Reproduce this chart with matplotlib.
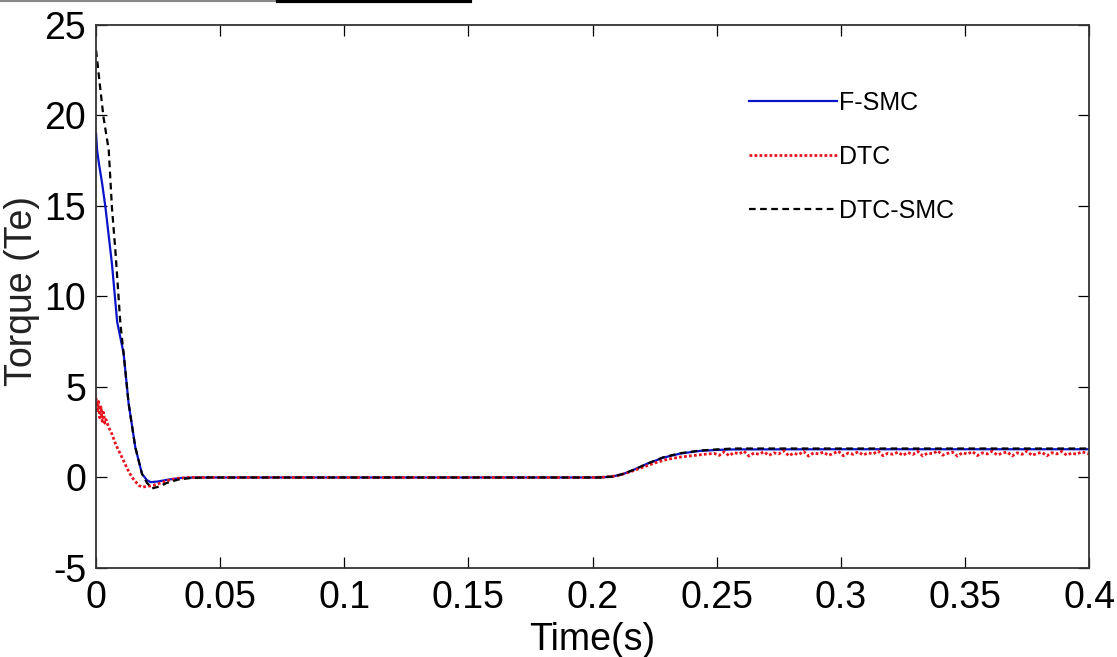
import matplotlib
matplotlib.use("Agg")
import matplotlib.pyplot as plt
from matplotlib.lines import Line2D

plt.rcParams["axes.unicode_minus"] = False

# F-SMC (blue)
t_fsmc = [0, 0.0004, 0.0012, 0.0025, 0.0038, 0.0064, 0.0085, 0.0111, 0.0131, 0.0158,
          0.0185, 0.0205, 0.0220, 0.0250, 0.0290, 0.0340, 0.0400, 0.2000, 0.2030, 0.2080,
          0.2125, 0.2170, 0.2220, 0.2286, 0.2353, 0.2434, 0.2500, 0.2567, 0.3000, 0.4000]
fsmc = [19.0, 18.1, 17.3, 16.2, 14.9, 11.8, 8.6, 6.85, 4.1, 1.67,
        0.2, -0.15, -0.26, -0.22, -0.12, -0.03, 0.0, 0.0, 0.0, 0.05,
        0.2, 0.45, 0.76, 1.1, 1.32, 1.47, 1.52, 1.55, 1.56, 1.56]

# DTC-SMC (black dashed)
t_dtcsmc = [0, 0.0005, 0.0016, 0.0030, 0.0051, 0.0064, 0.0078, 0.0098, 0.0111, 0.0131,
            0.0158, 0.0185, 0.0205, 0.0226, 0.0255, 0.0285, 0.0330, 0.0380, 0.0450, 0.2000,
            0.2030, 0.2080, 0.2125, 0.2170, 0.2220, 0.2286, 0.2353, 0.2434, 0.2500, 0.2567,
            0.3000, 0.4000]
dtcsmc = [23.6, 23.0, 21.6, 19.9, 18.1, 14.9, 12.5, 8.5, 6.85, 4.1,
          1.67, 0.2, -0.3, -0.6, -0.5, -0.3, -0.12, -0.03, 0.0, 0.0,
          0.0, 0.05, 0.2, 0.45, 0.76, 1.12, 1.34, 1.49, 1.55, 1.6,
          1.6, 1.6]

# DTC (red dotted, noisy)
t_dtc = [0, 0.0005, 0.0010, 0.0015, 0.0020, 0.0025, 0.0030, 0.0035, 0.0040, 0.0050,
         0.0064, 0.0080, 0.0105, 0.0125, 0.0145, 0.0172, 0.0185, 0.0204, 0.0230, 0.0260,
         0.0300, 0.0325, 0.0380, 0.2000, 0.2050, 0.2100, 0.2150, 0.2200, 0.2250, 0.2300,
         0.2350, 0.2400, 0.2450, 0.2490, 0.2510, 0.2530, 0.2550, 0.2570, 0.2590, 0.2610,
         0.2630, 0.2650, 0.2670, 0.2690, 0.2710, 0.2730, 0.2750, 0.2770, 0.2790, 0.2810,
         0.2830, 0.2850, 0.2870, 0.2890, 0.2910, 0.2930, 0.2950, 0.2970, 0.2990, 0.3010,
         0.3030, 0.3050, 0.3070, 0.3090, 0.3110, 0.3130, 0.3150, 0.3170, 0.3190, 0.3210,
         0.3230, 0.3250, 0.3270, 0.3290, 0.3310, 0.3330, 0.3350, 0.3370, 0.3390, 0.3410,
         0.3430, 0.3450, 0.3470, 0.3490, 0.3510, 0.3530, 0.3550, 0.3570, 0.3590, 0.3610,
         0.3630, 0.3650, 0.3670, 0.3690, 0.3710, 0.3730, 0.3750, 0.3770, 0.3790, 0.3810,
         0.3830, 0.3850, 0.3870, 0.3890, 0.3910, 0.3930, 0.3950, 0.3970, 0.4000]
dtc = [4.4, 3.6, 4.2, 3.3, 3.9, 3.1, 3.6, 3.0, 3.2, 2.8,
       2.4, 1.8, 1.1, 0.5, 0.0, -0.44, -0.53, -0.5, -0.44, -0.3,
       -0.12, -0.05, 0.0, 0.0, 0.02, 0.1, 0.3, 0.55, 0.8, 1.0,
       1.12, 1.2, 1.28, 1.33, 1.22, 1.42, 1.2, 1.38, 1.3, 1.45,
       1.18, 1.35, 1.28, 1.42, 1.22, 1.36, 1.3, 1.48, 1.2, 1.34,
       1.26, 1.44, 1.18, 1.36, 1.3, 1.4, 1.22, 1.33, 1.45, 1.2,
       1.35, 1.28, 1.42, 1.24, 1.36, 1.3, 1.46, 1.2, 1.34, 1.28,
       1.4, 1.22, 1.38, 1.27, 1.44, 1.19, 1.35, 1.31, 1.47, 1.23,
       1.33, 1.4, 1.18, 1.37, 1.29, 1.43, 1.21, 1.36, 1.3, 1.45,
       1.24, 1.34, 1.41, 1.19, 1.36, 1.28, 1.46, 1.22, 1.33, 1.39,
       1.2, 1.37, 1.3, 1.44, 1.23, 1.35, 1.28, 1.42, 1.3]

x_ticks = [0, 0.05, 0.1, 0.15, 0.2, 0.25, 0.3, 0.35, 0.4]
x_labels = ["0", "0.05", "0.1", "0.15", "0.2", "0.25", "0.3", "0.35", "0.4"]
y_ticks = [-5, 0, 5, 10, 15, 20, 25]

fam = ["Liberation Sans", "DejaVu Sans"]

fig = plt.figure(figsize=(11.17, 6.57), dpi=100)
ax = fig.add_axes([0.086, 0.1355, 0.889, 0.8265])

ax.plot(t_fsmc, fsmc, color="#0a14c8", lw=1.6, label="F-SMC")
ax.plot(t_dtc, dtc, color="#e8141e", lw=2.0, ls=(0, (1, 0.8)), label="DTC")
ax.plot(t_dtcsmc, dtcsmc, color="black", lw=1.6, ls=(0, (3, 2)), label="DTC-SMC")

ax.set_xlim(0, 0.4)
ax.set_ylim(-5, 25)
ax.set_xticks(x_ticks)
ax.set_xticklabels(x_labels)
ax.set_yticks(y_ticks)
ax.tick_params(direction="in", length=8, width=0.9, top=True, right=True,
               labelsize=27)
ax.tick_params(axis="x", pad=9)
ax.tick_params(axis="y", pad=7)
for lab in ax.get_xticklabels() + ax.get_yticklabels():
    lab.set_family(fam)
for sp in ax.spines.values():
    sp.set_color("#333333")
    sp.set_linewidth(1.3)

ax.set_xlabel("Time(s)", family=fam, fontsize=27, labelpad=4)
ax.set_ylabel("Torque (Te)", family=fam, fontsize=27, color="#222222")
ax.yaxis.set_label_coords(-0.056, 0.51)

leg = ax.legend(loc="upper left", bbox_to_anchor=(0.635, 0.92), frameon=False,
                handlelength=3.5, handletextpad=0.1, labelspacing=1.2,
                prop={"family": fam, "size": 18})

# cropped strip along the top edge of the original image
fig.add_artist(Line2D([0, 0.25], [0.998, 0.998], transform=fig.transFigure,
                      color="#888888", lw=1.5))
fig.add_artist(Line2D([0.249, 0.421], [0.998, 0.998], transform=fig.transFigure,
                      color="black", lw=3))

fig.savefig("out.png", dpi=100)
